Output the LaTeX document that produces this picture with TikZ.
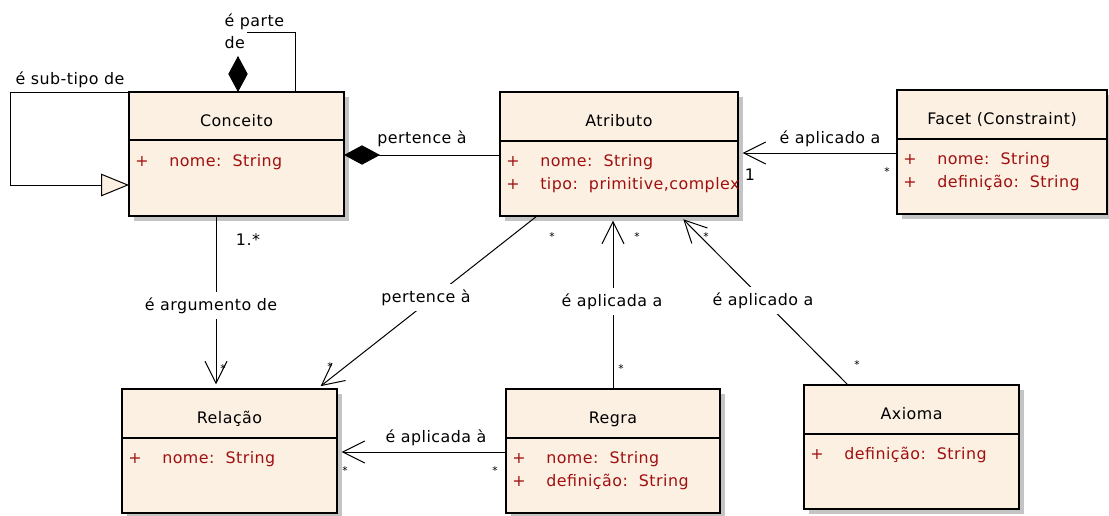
\documentclass[tikz,border=0pt]{standalone}
\usepackage{fontspec}
\setmainfont{DejaVu Sans}
\newfontfamily\umlfamily[LetterSpace=3]{DejaVu Sans}
\usetikzlibrary{arrows.meta,calc,shadows}

\definecolor{classfill}{RGB}{251,240,226}
\definecolor{classshadow}{RGB}{196,196,196}
\definecolor{attrred}{RGB}{160,16,16}

\newcommand\umlfont{\umlfamily\fontsize{11.9}{14}\selectfont}
\newcommand\multfont{\fontsize{8}{9}\selectfont}

% class box: name, x, y, width, divider offset, title
\newcommand\umlclassbox[6]{%
  \node[classbox, minimum width=#4*0.75pt] (#1) at (#2,#3) {};
  \draw[divider] ($(#1.north west)+(0,#5)$) -- ($(#1.north east)+(0,#5)$);
  \node[titletext] (#1-title) at ($(#1.north)+(0,34)$) {#6};
}
% attribute row: class name, row name, baseline offset, text
\newcommand\umlattr[4]{%
  \node[plustext] (#1-#2-plus) at ($(#1.north west)+(13,#3)$) {+};
  \node[attrtext] (#1-#2) at ($(#1.north west)+(40,#3)$) {#4};
}

\begin{document}
\begin{tikzpicture}[x=0.75pt,y=-0.75pt,
  classbox/.style={draw=black, line width=1.4pt, fill=classfill,
    anchor=north west, inner sep=0pt, outer sep=0pt,
    minimum height=124*0.75pt,
    drop shadow={shadow xshift=3.75pt, shadow yshift=-3.75pt,
      fill=classshadow, opacity=1}},
  divider/.style={line width=1.4pt},
  titletext/.style={font=\umlfont, text=black, anchor=base, inner sep=0pt},
  plustext/.style={font=\umlfont, text=attrred, anchor=base, inner sep=0pt},
  attrtext/.style={font=\umlfont, text=attrred, anchor=base west, inner sep=0pt},
  conn/.style={line width=0.75pt, draw=black},
  assoc/.style={conn, -{Straight Barb[length=16.5pt,width=16.5pt,line width=0.75pt]},
    shorten >=3.5pt},
  comp/.style={conn, {Diamond[length=27pt,width=14.5pt]}-},
  gen/.style={conn, -{Triangle[length=21pt,width=17pt,fill=classfill,line width=0.75pt]}},
  lbl/.style={font=\umlfont, anchor=base, inner sep=1pt},
  lblcut/.style={lbl, fill=white, inner xsep=1pt, inner ysep=4pt},
  mult/.style={font=\multfont, anchor=base, inner sep=0pt},
  multbig/.style={font=\umlfont, anchor=base, inner sep=0pt}]

\fill[white] (0,0) rectangle (1109,515);
\useasboundingbox (0,0) rectangle (1109,515);

% classes
\umlclassbox{conceito}{129}{92}{215}{48}{Conceito}
\umlattr{conceito}{nome}{74}{nome:\ \ String}

\umlclassbox{atributo}{500}{92}{238}{49}{Atributo}
\umlattr{atributo}{nome}{74}{nome:\ \ String}
\umlattr{atributo}{tipo}{97}{tipo:\ \ primitive,complex}

\umlclassbox{facet}{897}{90}{210}{49}{Facet (Constraint)}
\umlattr{facet}{nome}{74}{nome:\ \ String}
\umlattr{facet}{def}{97}{definição:\ \ String}

\umlclassbox{relacao}{122}{389}{215}{49}{Relação}
\umlattr{relacao}{nome}{74}{nome:\ \ String}

\umlclassbox{regra}{506}{389}{214}{49}{Regra}
\umlattr{regra}{nome}{74}{nome:\ \ String}
\umlattr{regra}{def}{97}{definição:\ \ String}

\umlclassbox{axioma}{804}{385}{215}{49}{Axioma}
\umlattr{axioma}{def}{74}{definição:\ \ String}

% Conceito: sub-type self loop
\draw[gen] (conceito.north west) -- ++(-119,0) |- ($(conceito.north west)+(0,93)$);
\node[lbl] (subtipo) at (70,84) {é sub-tipo de};

% Conceito: part-of self loop
\draw[comp] ($(conceito.north west)+(109,0)$) -- ++(0,-35) coordinate (parte-a);
\draw[conn] ($(conceito.north west)+(166,0)$) |- ++(-48,-60) coordinate (parte-b);
\node[lbl, anchor=base west] (parte1) at (223,26) {é parte};
\node[lbl, anchor=base west] (parte2) at (223,48) {de};

% Conceito -- Atributo
\draw[comp] ($(conceito.north east)+(0,63)$) coordinate (ca) -- (ca -| atributo.west);
\node[lbl] (pertence1) at (422,143) {pertence à};

% Facet -> Atributo
\draw[assoc] ($(facet.north west)+(0,63)$) coordinate (fa) -- (fa -| atributo.east);
\node[lbl] (aplicado1) at (830,143) {é aplicado a};
\node[multbig] (m-fa1) at (750,180) {1};
\node[mult] (m-fa2) at (887,175) {*};

% Conceito -> Relacao
\draw[assoc] ($(conceito.south west)+(87,0)$) coordinate (cr) -- (cr |- relacao.north);
\node[lblcut] (argumento) at (211,310) {é argumento de};
\node[multbig] (m-cr1) at (248,245) {1.*};
\node[mult] (m-cr2) at (223,372) {*};

% Atributo -> Relacao
\draw[assoc] ($(atributo.south west)+(37,0)$) -- ($(relacao.north west)+(195,0)$);
\node[lblcut] (pertence2) at (426,302) {pertence à};
\node[mult] (m-ar1) at (552,240) {*};
\node[mult] (m-ar2) at (330,370) {*};

% Regra -> Atributo
\draw[assoc] ($(regra.north west)+(107,0)$) coordinate (ra) -- (ra |- atributo.south);
\node[lblcut] (aplicada1) at (612,306) {é aplicada a};
\node[mult] (m-ra1) at (637,240) {*};
\node[mult] (m-ra2) at (621,372) {*};

% Axioma -> Atributo
\draw[assoc] ($(axioma.north west)+(44,0)$) -- ($(atributo.south west)+(180,0)$);
\node[lblcut] (aplicado2) at (763,305) {é aplicado a};
\node[mult] (m-xa1) at (706,240) {*};
\node[mult] (m-xa2) at (857,368) {*};

% Regra -> Relacao
\draw[assoc] ($(regra.north west)+(0,63)$) coordinate (rr) -- (rr -| relacao.east);
\node[lbl] (aplicada2) at (436,442) {é aplicada à};
\node[mult] (m-rr1) at (345,474) {*};
\node[mult] (m-rr2) at (495,474) {*};

\end{tikzpicture}
\end{document}
